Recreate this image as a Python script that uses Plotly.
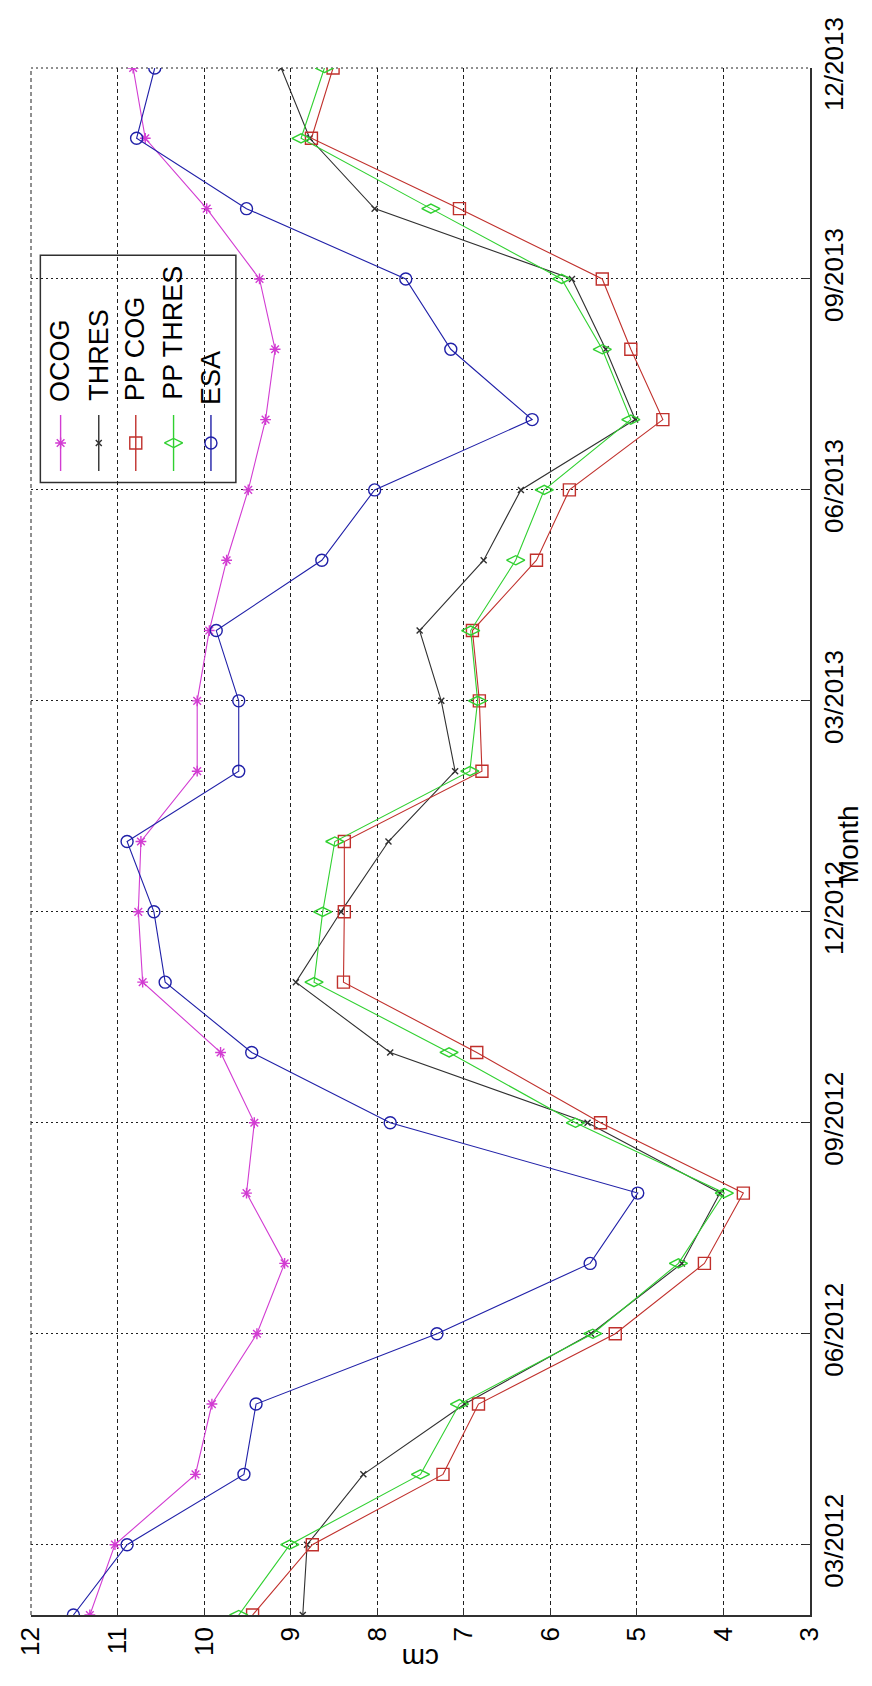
import plotly.graph_objects as go

# meses (de 02/2012 a 12/2013)
months = ['02/2012', '03/2012', '04/2012', '05/2012', '06/2012', '07/2012',
          '08/2012', '09/2012', '10/2012', '11/2012', '12/2012', '01/2013',
          '02/2013', '03/2013', '04/2013', '05/2013', '06/2013', '07/2013',
          '08/2013', '09/2013', '10/2013', '11/2013', '12/2013']
month_ticks = ['03/2012', '06/2012', '09/2012', '12/2012',
               '03/2013', '06/2013', '09/2013', '12/2013']
cm_ticks = [12, 11, 10, 9, 8, 7, 6, 5, 4, 3]

ocog = [11.32, 11.03, 10.10, 9.91, 9.39, 9.07, 9.51, 9.42, 9.81, 10.71, 10.76, 10.73,
        10.08, 10.08, 9.94, 9.74, 9.49, 9.29, 9.18, 9.36, 9.97, 10.68, 10.82]
thres = [8.86, 8.81, 8.16, 6.99, 5.53, 4.48, 4.04, 5.57, 7.85, 8.94, 8.42, 7.87,
         7.10, 7.26, 7.51, 6.77, 6.34, 5.02, 5.36, 5.75, 8.03, 8.78, 9.11]
pp_cog = [9.44, 8.75, 7.24, 6.83, 5.25, 4.22, 3.77, 5.42, 6.85, 8.39, 8.38, 8.38,
          6.79, 6.82, 6.90, 6.16, 5.78, 4.70, 5.07, 5.40, 7.05, 8.76, 8.51]
pp_thres = [9.60, 9.01, 7.50, 7.05, 5.51, 4.52, 3.99, 5.71, 7.17, 8.73, 8.63, 8.49,
            6.93, 6.84, 6.92, 6.40, 6.07, 5.07, 5.40, 5.87, 7.38, 8.88, 8.61]
esa = [11.51, 10.89, 9.54, 9.40, 7.31, 5.54, 4.99, 7.85, 9.45, 10.45, 10.58, 10.89,
       9.60, 9.60, 9.86, 8.64, 8.03, 6.21, 7.15, 7.67, 9.51, 10.78, 10.57]

series_names = ['OCOG', 'THRES', 'PP COG', 'PP THRES', 'ESA']
series_values = [ocog, thres, pp_cog, pp_thres, esa]

styles = {
    'OCOG': dict(color='#d23cd2', symbol='asterisk-open', size=9),
    'THRES': dict(color='#303030', symbol='x-thin-open', size=6),
    'PP COG': dict(color='#c0302c', symbol='square-open', size=12),
    'PP THRES': dict(color='#30d030', symbol='diamond-wide-open', size=13),
    'ESA': dict(color='#2020a8', symbol='circle-open', size=12),
}

FONT = 'Liberation Sans, Arial, sans-serif'

fig = go.Figure()

# Series (gráfico girado: cm en horizontal, meses en vertical)
for name, vals in zip(series_names, series_values):
    st = styles[name]
    fig.add_trace(go.Scatter(
        x=vals, y=months, mode='lines+markers', name=name,
        line=dict(color=st['color'], width=1.1),
        marker=dict(symbol=st['symbol'], size=st['size'], color=st['color'],
                    line=dict(color=st['color'], width=1.4)),
        showlegend=False
    ))

# Leyenda manual (rotada): centro de cada texto en papel
leg_x = [0.038, 0.087, 0.1345, 0.183, 0.231]
leg_text_y = [0.811, 0.8145, 0.8187, 0.8285, 0.7995]
for name, lx, ty in zip(series_names, leg_x, leg_text_y):
    st = styles[name]
    fig.add_trace(go.Scatter(
        x=[lx, lx], y=[0.7395, 0.7757], mode='lines',
        line=dict(color=st['color'], width=1.4),
        xaxis='x2', yaxis='y2', showlegend=False, hoverinfo='skip'
    ))
    fig.add_trace(go.Scatter(
        x=[lx], y=[0.7576], mode='markers',
        marker=dict(symbol=st['symbol'], size=st['size'], color=st['color'],
                    line=dict(color=st['color'], width=1.4)),
        xaxis='x2', yaxis='y2', showlegend=False, hoverinfo='skip'
    ))
    fig.add_annotation(
        x=lx, y=ty, xref='paper', yref='paper', text=name,
        textangle=-90, showarrow=False, xanchor='center', yanchor='middle',
        font=dict(family=FONT, size=27, color='black')
    )

fig.add_shape(type='rect', xref='paper', yref='paper',
              x0=0.012, x1=0.263, y0=0.732, y1=0.879,
              line=dict(color='#303030', width=1.5), fillcolor='white',
              layer='between')

# líneas de rejilla en los bordes (12 cm y 12/2013)
fig.add_shape(type='line', xref='paper', yref='paper', x0=0, x1=0, y0=0, y1=1,
              line=dict(color='#202020', width=1, dash='4px,3px'), layer='between')
fig.add_shape(type='line', xref='paper', yref='paper', x0=0, x1=1, y0=1, y1=1,
              line=dict(color='#202020', width=1, dash='2px,3px'), layer='between')

# Títulos de ejes
fig.add_annotation(x=0.5, y=-0.0395, xref='paper', yref='paper', text='cm',
                   textangle=180, showarrow=False,
                   font=dict(family=FONT, size=28, color='black'))
fig.add_annotation(x=1.072, y=0.498, xref='paper', yref='paper', text='Month',
                   textangle=-90, showarrow=False,
                   font=dict(family=FONT, size=28, color='black'))

fig.update_layout(
    width=872, height=1686,
    margin=dict(l=23, r=70, t=60, b=79),
    plot_bgcolor='white', paper_bgcolor='white',
    font=dict(family=FONT, size=26, color='black'),
    xaxis=dict(
        range=[12, 3], tickmode='array', tickvals=cm_ticks, automargin=False,
        tickangle=-90, ticks='inside', ticklen=7, tickcolor='#303030',
        showline=True, linecolor='#303030', linewidth=1.5, mirror=False,
        showgrid=True, gridcolor='#202020', gridwidth=1, griddash='4px,3px',
        zeroline=False, tickfont=dict(size=26)
    ),
    yaxis=dict(
        type='category', categoryorder='array', categoryarray=months,
        range=[0, len(months) - 1], side='right', automargin=False,
        tickmode='array', tickvals=month_ticks, ticktext=month_ticks,
        tickangle=-90, ticks='inside', ticklen=7, tickcolor='#303030',
        showline=True, linecolor='#303030', linewidth=1.5, mirror=False,
        showgrid=True, gridcolor='#202020', gridwidth=1, griddash='2px,3px',
        zeroline=False, tickfont=dict(size=26)
    ),
    xaxis2=dict(overlaying='x', range=[0, 1], visible=False),
    yaxis2=dict(overlaying='y', range=[0, 1], visible=False),
)

fig.write_html('out.html')
